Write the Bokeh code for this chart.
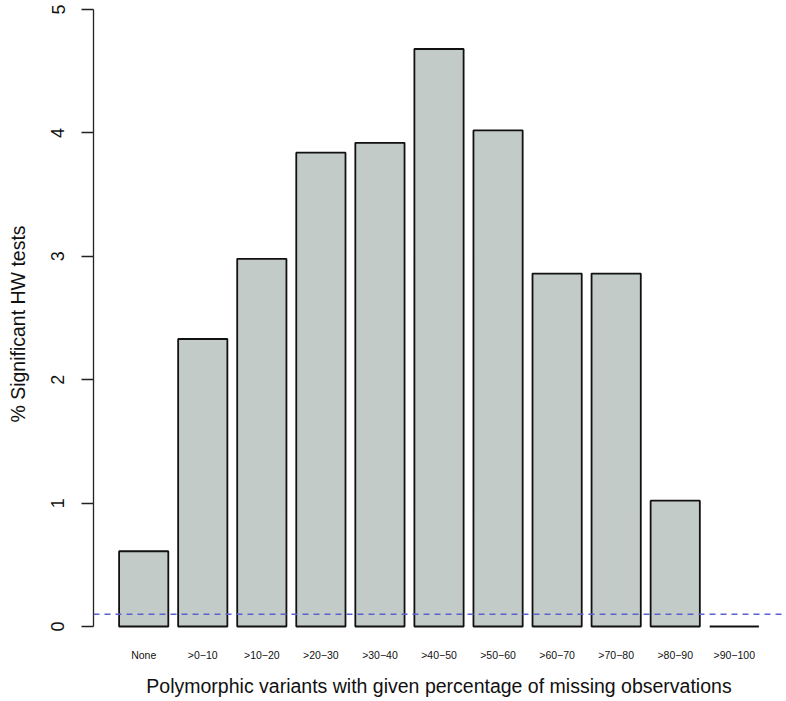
from bokeh.plotting import figure
from bokeh.models import Range1d, FixedTicker, Span
from bokeh.embed import file_html
from bokeh.resources import INLINE

categories = ["None", ">0\u221210", ">10\u221220", ">20\u221230", ">30\u221240", ">40\u221250",
              ">50\u221260", ">60\u221270", ">70\u221280", ">80\u221290", ">90\u2212100"]
values = [0.61, 2.33, 2.98, 3.84, 3.92, 4.68, 4.02, 2.86, 2.86, 1.02, 0.0]
y_ticks = [0, 1, 2, 3, 4, 5]
threshold = 0.1

# R barplot layout: width 1, space 0.2
centers = [0.7 + 1.2 * i for i in range(len(categories))]

FONT = "Liberation Sans"

p = figure(width=786, height=701, output_backend="svg", toolbar_location=None,
           x_range=Range1d(-0.32, 13.72), y_range=Range1d(-0.170, 5.073),
           min_border_left=93, min_border_right=2, min_border_top=0, min_border_bottom=54)
p.outline_line_color = None
p.xgrid.visible = False
p.ygrid.visible = False

p.vbar(x=centers, top=values, bottom=0, width=1.0,
       fill_color="#C3CBC8", line_color="#111111", line_width=1.8)

p.add_layout(Span(location=threshold, dimension="width", line_color="#5A62D2",
                  line_dash="6 5", line_width=1.6))

# y axis
p.yaxis.ticker = FixedTicker(ticks=y_ticks)
p.yaxis.bounds = (0, 5)
p.yaxis.axis_line_color = "#222222"
p.yaxis.axis_line_width = 1.3
p.yaxis.major_tick_line_color = "#222222"
p.yaxis.major_tick_line_width = 1.3
p.yaxis.major_tick_out = 12
p.yaxis.major_tick_in = 0
p.yaxis.minor_tick_line_color = None
p.yaxis.major_label_orientation = "vertical"
p.yaxis.major_label_standoff = 17
p.yaxis.major_label_text_font = FONT
p.yaxis.major_label_text_font_size = "18px"
p.yaxis.major_label_text_color = "#111111"
p.yaxis.axis_label = "% Significant HW tests"
p.yaxis.axis_label_text_font = FONT
p.yaxis.axis_label_text_font_size = "19.5px"
p.yaxis.axis_label_text_font_style = "normal"
p.yaxis.axis_label_text_color = "#111111"
p.yaxis.axis_label_standoff = 20

# x axis
p.xaxis.ticker = FixedTicker(ticks=centers)
p.xaxis.major_label_overrides = {c: lab for c, lab in zip(centers, categories)}
p.xaxis.axis_line_color = None
p.xaxis.major_tick_line_color = None
p.xaxis.minor_tick_line_color = None
p.xaxis.major_tick_out = 0
p.xaxis.major_tick_in = 0
p.xaxis.major_label_standoff = 1
p.xaxis.major_label_text_font = FONT
p.xaxis.major_label_text_font_size = "10.5px"
p.xaxis.major_label_text_color = "#111111"
p.xaxis.axis_label = "Polymorphic variants with given percentage of missing observations"
p.xaxis.axis_label_text_font = FONT
p.xaxis.axis_label_text_font_size = "19.5px"
p.xaxis.axis_label_text_font_style = "normal"
p.xaxis.axis_label_text_color = "#111111"
p.xaxis.axis_label_standoff = 11

open("out.html", "w").write(file_html(p, INLINE))
